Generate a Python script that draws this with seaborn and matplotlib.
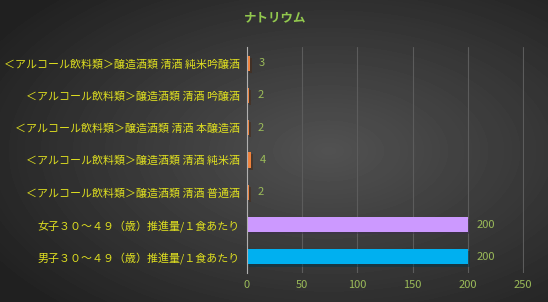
import numpy as np
import pandas as pd
import matplotlib.pyplot as plt
import matplotlib.patheffects as pe
import seaborn as sns

# data (top to bottom)
categories = [
    "＜アルコール飲料類＞醸造酒類 清酒 純米吟醸酒",
    "＜アルコール飲料類＞醸造酒類 清酒 吟醸酒",
    "＜アルコール飲料類＞醸造酒類 清酒 本醸造酒",
    "＜アルコール飲料類＞醸造酒類 清酒 純米酒",
    "＜アルコール飲料類＞醸造酒類 清酒 普通酒",
    "女子３０～４９（歳）推進量/１食あたり",
    "男子３０～４９（歳）推進量/１食あたり",
]
values = [3, 2, 2, 4, 2, 200, 200]
bar_colors = ["#f0823c", "#f0823c", "#f0823c", "#f0823c", "#f0823c", "#cc99ff", "#00b0f0"]
x_ticks = [0, 50, 100, 150, 200, 250]

df = pd.DataFrame({"item": categories, "value": values})

sns.set_theme(style="dark")
plt.rcParams["font.family"] = ["Noto Sans CJK JP", "DejaVu Sans"]

fig = plt.figure(figsize=(5.48, 3.02), dpi=100)

# dark radial gradient background
bg = fig.add_axes([0, 0, 1, 1], zorder=-10)
yy, xx = np.mgrid[0:1:302j, 0:1:548j]
r = np.sqrt(((xx - 0.6) / 0.9) ** 2 + ((yy - 0.5) / 0.9) ** 2)
shade = np.clip(0.32 - 0.24 * r, 0.13, 0.32)
bg.imshow(shade, cmap="gray", vmin=0, vmax=1, aspect="auto", extent=[0, 1, 0, 1])
bg.axis("off")

ax = fig.add_axes([247 / 548, 1 - 273 / 302, 277 / 548, 226 / 302])
ax.set_facecolor("none")

sns.barplot(data=df, x="value", y="item", hue="item", palette=bar_colors,
            legend=False, width=0.47, ax=ax, saturation=1,
            edgecolor="none")
for p in ax.patches:
    p.set_path_effects([pe.SimplePatchShadow(offset=(1.5, -1.5), alpha=0.5), pe.Normal()])

ax.set_xlim(0, 251)
ax.set_xticks(x_ticks)
ax.set_xlabel("")
ax.set_ylabel("")
fig.text(275 / 548, 1 - 18 / 302, "ナトリウム", color="#92c84e", fontsize=9,
         fontweight="bold", ha="center", va="center")
ax.grid(axis="x", color="#5c5c5c", linewidth=0.8)
ax.grid(axis="y", visible=False)
for s in ["top", "right", "bottom"]:
    ax.spines[s].set_visible(False)
ax.spines["left"].set_color("#b0b0b0")
ax.spines["left"].set_linewidth(0.8)
ax.tick_params(axis="x", colors="#9bbb59", labelsize=8, length=0, pad=5)
ax.tick_params(axis="y", colors="#e0e020", labelsize=7.9, length=0, pad=5)

for i, v in enumerate(values):
    ax.text(v + 8, i, str(v), color="#9bbb59", fontsize=8, va="center", ha="left")

fig.savefig("out.png", dpi=100, facecolor="#333333")
